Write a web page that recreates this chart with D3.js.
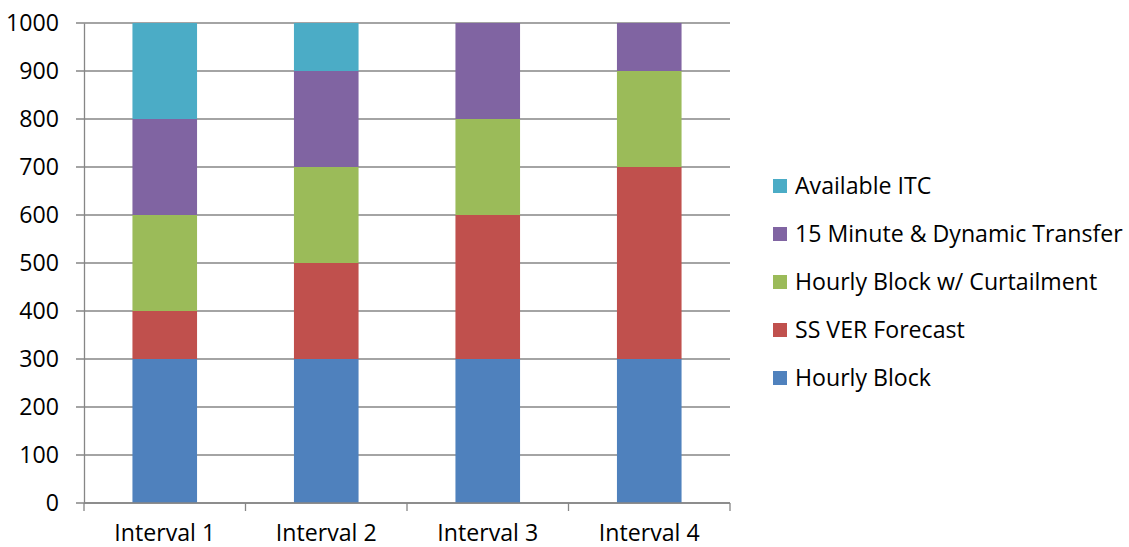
<!DOCTYPE html>
<html><head><meta charset="utf-8">
<script src="https://cdn.jsdelivr.net/npm/d3@7"></script>
<style>html,body{margin:0;padding:0;background:#fff;}svg{display:block;}</style>
</head><body>
<script>
const categories = ["Interval 1","Interval 2","Interval 3","Interval 4"];
const seriesNames = ["Hourly Block","SS VER Forecast","Hourly Block w/ Curtailment","15 Minute & Dynamic Transfer","Available ITC"];
const hourlyBlock = [300,300,300,300];
const ssVerForecast = [100,200,300,400];
const hourlyCurtail = [200,200,200,200];
const minute15Dynamic = [200,200,200,100];
const availableITC = [200,100,0,0];
const yTicks = [0,100,200,300,400,500,600,700,800,900,1000];
const colors = ["#4F81BD","#C0504D","#9BBB59","#8064A2","#4BACC6"];

const seriesValues = [hourlyBlock, ssVerForecast, hourlyCurtail, minute15Dynamic, availableITC];
const rows = categories.map((c,i)=>{const o={cat:c}; seriesNames.forEach((s,j)=>o[s]=seriesValues[j][i]); return o;});
const stacked = d3.stack().keys(seriesNames)(rows);

const W=1129,H=547;
const svg=d3.select("body").append("svg").attr("width",W).attr("height",H);
const FONT="'Open Sans', sans-serif";
const probe=svg.append("text").attr("font-family",FONT).attr("font-size",20).text("15 Minute & Dynamic Transfer");
const fs=20*328/probe.node().getComputedTextLength();
probe.remove();

const x=d3.scaleBand().domain(categories).range([84,730]).paddingInner(0.6).paddingOuter(0.3);
const y=d3.scaleLinear().domain([0,1000]).range([503,23]);

svg.append("g").selectAll("line").data(yTicks).join("line")
  .attr("x1",76).attr("x2",730).attr("y1",d=>y(d)).attr("y2",d=>y(d))
  .attr("stroke","#868686").attr("stroke-width",1.3);

svg.append("g").selectAll("g").data(stacked).join("g").attr("fill",(d,i)=>colors[i])
  .selectAll("rect").data(d=>d).join("rect")
  .attr("x",d=>x(d.data.cat)).attr("width",x.bandwidth())
  .attr("y",d=>y(d[1])).attr("height",d=>y(d[0])-y(d[1]));

const ya=svg.append("g").attr("transform","translate(84,0)")
  .call(d3.axisLeft(y).tickValues(yTicks).tickSize(0).tickPadding(25).tickFormat(d3.format("d")));
ya.select(".domain").attr("stroke","#868686").attr("stroke-width",1.3);
ya.selectAll("text").attr("font-family",FONT).attr("font-size",fs).attr("fill","#000");

const xBoundary=d3.scaleLinear().domain([0,4]).range([84,730]);
const xa=svg.append("g").attr("transform","translate(0,503)");
xa.append("line").attr("x1",84).attr("x2",730).attr("stroke","#868686").attr("stroke-width",1.3);
xa.selectAll("line.t").data(d3.range(5)).join("line").attr("class","t")
  .attr("x1",d=>xBoundary(d)).attr("x2",d=>xBoundary(d)).attr("y1",0).attr("y2",8)
  .attr("stroke","#868686").attr("stroke-width",1.3);
xa.selectAll("text").data(categories).join("text")
  .attr("x",d=>x(d)+x.bandwidth()/2).attr("y",38).attr("text-anchor","middle")
  .attr("font-family",FONT).attr("font-size",fs).attr("fill","#000").text(d=>d);

const legendOrder=d3.range(seriesNames.length).reverse();
const lg=svg.append("g").selectAll("g").data(legendOrder).join("g")
  .attr("transform",(d,i)=>`translate(773,${186+i*48})`);
lg.append("rect").attr("x",0).attr("y",-7).attr("width",14).attr("height",14).attr("fill",d=>colors[d]);
lg.append("text").attr("x",22).attr("dy","0.35em").attr("font-family",FONT).attr("font-size",fs).attr("fill","#000").text(d=>seriesNames[d]);
</script>
</body></html>
